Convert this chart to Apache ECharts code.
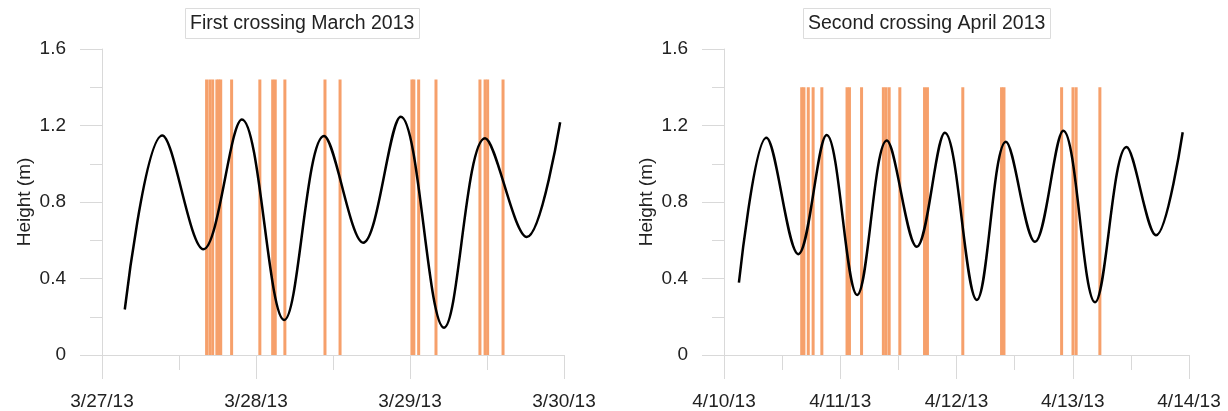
<!DOCTYPE html>
<html>
<head>
<meta charset="utf-8">
<script src="https://cdn.jsdelivr.net/npm/echarts@6/dist/echarts.min.js"></script>
<style>
  html, body { margin: 0; padding: 0; background: #fff; }
  #chart { width: 1228px; height: 411px; }
</style>
</head>
<body>
<div id="chart"></div>
<script>
// titles and tick labels
var leftTitle = 'First crossing March 2013';
var rightTitle = 'Second crossing April 2013';
var leftDays = ['3/27/13', '3/28/13', '3/29/13', '3/30/13'];
var rightDays = ['4/10/13', '4/11/13', '4/12/13', '4/13/13', '4/14/13'];

// tide curve: first/last point plus every high and low water
// hours since first day 00:00 / height (m)
var leftTideHours = [3.55, 9.4, 15.8, 21.8, 28.4, 34.6, 40.7, 46.55, 53.3, 59.7, 66.2, 71.4];
var leftTideHeights = [0.238, 1.148, 0.553, 1.232, 0.183, 1.145, 0.587, 1.246, 0.143, 1.133, 0.617, 1.217];

var rightTideHours = [3.08, 8.75, 15.34, 21.2, 27.5, 33.6, 39.8, 45.6, 52.2, 58.2, 64.2, 70.05, 76.6, 83.1, 89.2, 94.7];
var rightTideHeights = [0.378, 1.136, 0.527, 1.15, 0.314, 1.121, 0.566, 1.162, 0.288, 1.115, 0.592, 1.173, 0.276, 1.087, 0.626, 1.165];

// crossing events (hours since first day 00:00)
var leftPassHours = [16.3, 16.8, 17.25, 17.9, 18.2, 18.5, 20.2, 24.6, 26.6, 27.0, 28.5, 34.75, 37.1, 48.3, 48.6, 49.35, 52.05, 58.9, 59.7, 60.1, 62.5];
var rightPassHours = [16.04, 16.5, 17.4, 18.4, 20.2, 25.4, 25.9, 28.4, 32.9, 33.45, 34.1, 36.3, 41.4, 42.0, 49.3, 57.3, 57.8, 69.7, 72.05, 72.7, 77.6];
var leftPassTop = 1.44;
var rightPassTop = 1.4;

var yTicks = [0, 0.4, 0.8, 1.2, 1.6];

function pairs(xs, ys) {
    return xs.map(function (x, i) { return [x, ys[i]]; });
}
function bars(xs, top) {
    return xs.map(function (x) { return [x, top]; });
}

var font = 'Liberation Sans, Arial, sans-serif';
var grey = '#d9d9d9';

function xAxisOf(gridIndex, days) {
    return {
        type: 'value',
        gridIndex: gridIndex,
        min: 0,
        max: (days.length - 1) * 24,
        interval: 24,
        axisLine: { show: true, onZero: false, lineStyle: { color: grey, width: 1 } },
        axisTick: { show: true, length: 24, lineStyle: { color: grey } },
        minorTick: { show: true, splitNumber: 2, length: 15, lineStyle: { color: grey } },
        splitLine: { show: false },
        axisLabel: {
            margin: 37,
            fontSize: 19,
            fontFamily: font,
            color: '#222',
            showMinLabel: true,
            showMaxLabel: true,
            formatter: function (v) { return days[Math.round(v / 24)]; }
        }
    };
}

function yAxisOf(gridIndex) {
    return {
        type: 'value',
        gridIndex: gridIndex,
        min: yTicks[0],
        max: yTicks[yTicks.length - 1],
        interval: 0.4,
        name: 'Height (m)',
        nameLocation: 'middle',
        nameGap: 68,
        nameTextStyle: { fontSize: 19, fontFamily: font, color: '#222' },
        axisLine: { show: true, lineStyle: { color: grey, width: 1 } },
        axisTick: { show: true, length: 22, lineStyle: { color: grey } },
        minorTick: { show: true, splitNumber: 2, length: 12, lineStyle: { color: grey } },
        splitLine: { show: false },
        axisLabel: { margin: 36, fontSize: 19, fontFamily: font, color: '#222' }
    };
}

function titleOf(text, left) {
    return {
        text: text,
        left: left,
        top: 8,
        padding: [4, 5],
        borderColor: '#dcdcdc',
        borderWidth: 1,
        textStyle: { fontSize: 19.5, fontWeight: 'normal', fontFamily: font, color: '#222', lineHeight: 23 }
    };
}

var chart = echarts.init(document.getElementById('chart'));
chart.setOption({
    animation: false,
    backgroundColor: '#fff',
    title: [titleOf(leftTitle, 185), titleOf(rightTitle, 803)],
    grid: [
        { left: 102, top: 49, width: 462, height: 306 },
        { left: 724, top: 49, width: 465, height: 306 }
    ],
    xAxis: [xAxisOf(0, leftDays), xAxisOf(1, rightDays)],
    yAxis: [yAxisOf(0), yAxisOf(1)],
    series: [
        {
            type: 'bar', xAxisIndex: 0, yAxisIndex: 0,
            barWidth: 3,
            itemStyle: { color: '#f6a06b' },
            data: bars(leftPassHours, leftPassTop)
        },
        {
            type: 'bar', xAxisIndex: 1, yAxisIndex: 1,
            barWidth: 3,
            itemStyle: { color: '#f6a06b' },
            data: bars(rightPassHours, rightPassTop)
        },
        {
            type: 'line', xAxisIndex: 0, yAxisIndex: 0,
            smooth: 0.36, showSymbol: false,
            lineStyle: { color: '#000', width: 2.5 },
            data: pairs(leftTideHours, leftTideHeights)
        },
        {
            type: 'line', xAxisIndex: 1, yAxisIndex: 1,
            smooth: 0.36, showSymbol: false,
            lineStyle: { color: '#000', width: 2.5 },
            data: pairs(rightTideHours, rightTideHeights)
        }
    ]
});
</script>
</body>
</html>
